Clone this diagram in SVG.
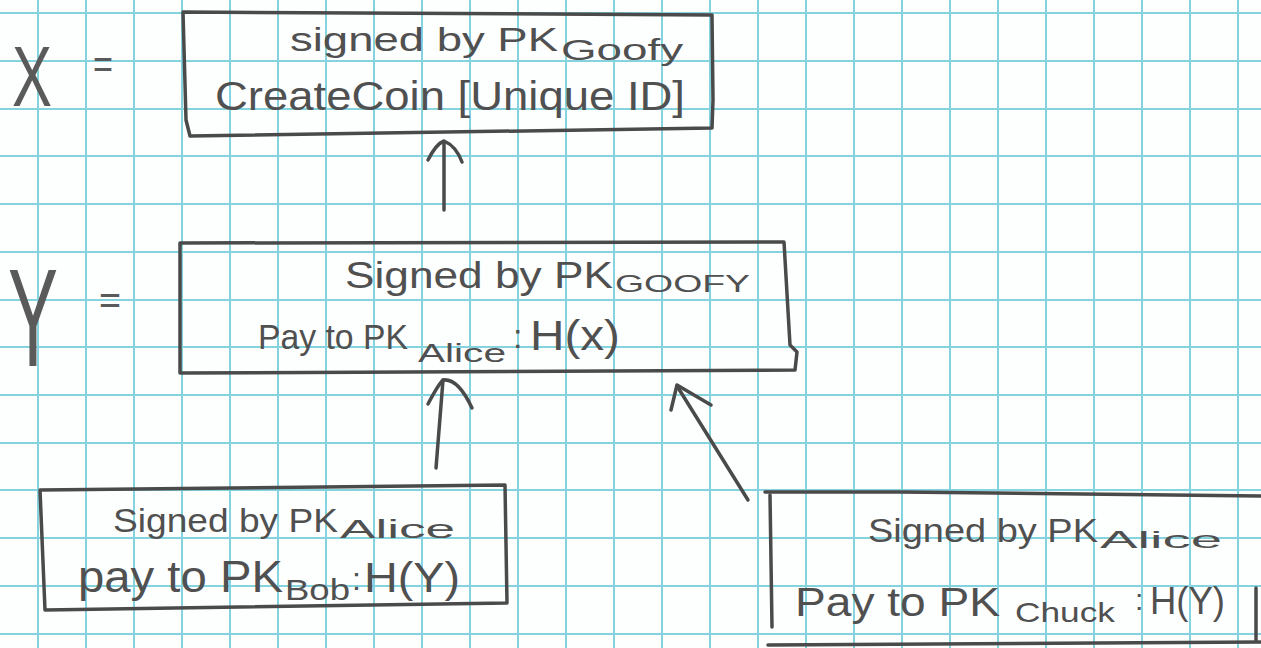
<svg xmlns="http://www.w3.org/2000/svg" width="1261" height="648" viewBox="0 0 1261 648">
<defs>
<style>
.grid{stroke:#86d3e0;stroke-width:2;fill:none}
.box{stroke:#4a4a4a;stroke-width:3.5;fill:none;stroke-linejoin:round;stroke-linecap:round}
.arr{stroke:#4a4a4a;stroke-width:3.5;fill:none;stroke-linecap:round;stroke-linejoin:round}
.t{font-family:"Liberation Sans",Arial,sans-serif;fill:#505050}
.big{font-family:"Liberation Sans",Arial,sans-serif;fill:#5a5a5a;font-weight:normal}
</style>
</defs>
<rect width="1261" height="648" fill="#fdfefe"/>
<g id="grid" class="grid">
<path d="M38,0V648 M86,0V648 M134,0V648 M182,0V648 M230,0V648 M278,0V648 M326,0V648 M374,0V648 M422,0V648 M470,0V648 M518,0V648 M566,0V648 M614,0V648 M662,0V648 M710,0V648 M758,0V648 M806,0V648 M854,0V648 M902,0V648 M950,0V648 M998,0V648 M1046,0V648 M1094,0V648 M1142,0V648 M1190,0V648 M1238,0V648"/>
<path d="M0,13H1261 M0,61H1261 M0,109H1261 M0,156H1261 M0,204H1261 M0,252H1261 M0,300H1261 M0,347H1261 M0,395H1261 M0,443H1261 M0,490H1261 M0,538H1261 M0,586H1261 M0,634H1261"/>
</g>

<g id="label-x">
<text class="big" x="12" y="106" font-size="86" textLength="40" lengthAdjust="spacingAndGlyphs">X</text>
<text class="big" x="93" y="78" font-size="40" textLength="20" lengthAdjust="spacingAndGlyphs">=</text>
</g>
<g id="label-y">
<text class="big" x="8" y="366" font-size="140" textLength="50" lengthAdjust="spacingAndGlyphs">Y</text>
<text class="big" x="99" y="314" font-size="40" textLength="22" lengthAdjust="spacingAndGlyphs">=</text>
</g>

<g id="node-x">
<path class="box" d="M183,12 L712,15 L713,100 L712,128 L190,136 L186,120 Z"/>
<text class="t" x="290" y="51" font-size="34" textLength="268" lengthAdjust="spacingAndGlyphs">signed by PK</text>
<text class="t" x="561" y="60" font-size="30" textLength="122" lengthAdjust="spacingAndGlyphs">Goofy</text>
<text class="t" x="215" y="110" font-size="40" textLength="470" lengthAdjust="spacingAndGlyphs">CreateCoin [Unique ID]</text>
</g>

<g id="node-y">
<path class="box" d="M180,243 L784,242 L790,345 L797,352 L795,370 L180,373 Z"/>
<text class="t" x="345" y="288" font-size="36" textLength="268" lengthAdjust="spacingAndGlyphs">Signed by PK</text>
<text class="t" x="615" y="292" font-size="24" textLength="135" lengthAdjust="spacingAndGlyphs">GOOFY</text>
<text class="t" x="258" y="349" font-size="35" textLength="150" lengthAdjust="spacingAndGlyphs">Pay to PK</text>
<text class="t" x="418" y="362" font-size="26" textLength="88" lengthAdjust="spacingAndGlyphs">Alice</text>
<text class="t" x="513" y="348" font-size="34">:</text>
<text class="t" x="530" y="350" font-size="42" textLength="90" lengthAdjust="spacingAndGlyphs">H(x)</text>
</g>

<g id="node-bob">
<path class="box" d="M40,490 L505,485 L507,603 L45,610 Z"/>
<text class="t" x="113" y="532" font-size="33" textLength="225" lengthAdjust="spacingAndGlyphs">Signed by PK</text>
<text class="t" x="340" y="538" font-size="26" textLength="115" lengthAdjust="spacingAndGlyphs">Alice</text>
<text class="t" x="78" y="592" font-size="44" textLength="205" lengthAdjust="spacingAndGlyphs">pay to PK</text>
<text class="t" x="285" y="600" font-size="30" textLength="65" lengthAdjust="spacingAndGlyphs">Bob</text>
<text class="t" x="352" y="590" font-size="32">:</text>
<text class="t" x="364" y="592" font-size="42" textLength="96" lengthAdjust="spacingAndGlyphs">H(Y)</text>
</g>

<g id="node-chuck">
<path class="box" d="M770,495 L772,627"/>
<path class="box" d="M765,492 L900,492 L1261,496"/>
<path class="box" d="M1256,588 L1256,640"/>
<path class="box" d="M768,645 L1261,642"/>
<text class="t" x="868" y="542" font-size="33" textLength="230" lengthAdjust="spacingAndGlyphs">Signed by PK</text>
<text class="t" x="1100" y="548" font-size="24" textLength="122" lengthAdjust="spacingAndGlyphs">Alice</text>
<text class="t" x="795" y="616" font-size="40" textLength="205" lengthAdjust="spacingAndGlyphs">Pay to PK</text>
<text class="t" x="1015" y="622" font-size="28" textLength="100" lengthAdjust="spacingAndGlyphs">Chuck</text>
<text class="t" x="1135" y="610" font-size="30">:</text>
<text class="t" x="1150" y="614" font-size="38" textLength="75" lengthAdjust="spacingAndGlyphs">H(Y)</text>
</g>

<g id="connectors">
<path class="arr" d="M444,210 L444,142"/>
<path class="arr" d="M428,160 Q436,144 444,141 Q456,146 462,162"/>
<path class="arr" d="M436,468 L443,380"/>
<path class="arr" d="M428,404 Q438,385 443,380 Q458,378 472,408"/>
<path class="arr" d="M748,500 L677,386"/>
<path class="arr" d="M671,410 L677,385 L711,405"/>
</g>
</svg>
